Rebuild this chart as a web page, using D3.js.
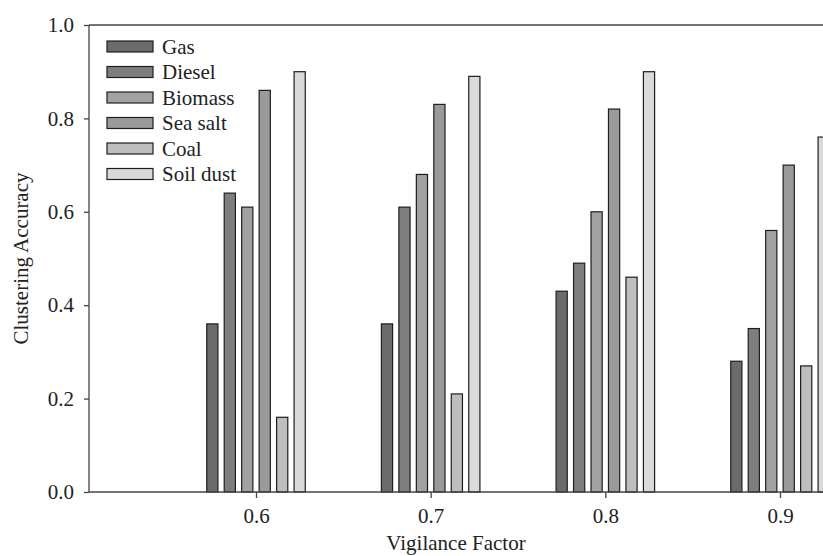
<!DOCTYPE html>
<html>
<head>
<meta charset="utf-8">
<script src="https://cdn.jsdelivr.net/npm/d3@7"></script>
<style>
  body { margin: 0; background: #fff; }
  svg { display: block; }
  text { font-family: "Liberation Serif", "Times New Roman", serif; fill: #222; }
</style>
</head>
<body>
<svg id="chart" width="823" height="556"></svg>
<script>
// --- Data ---
const factors = [0.6, 0.7, 0.8, 0.9];
const sources = ['Gas', 'Diesel', 'Biomass', 'Sea salt', 'Coal', 'Soil dust'];
const gas      = [0.36, 0.36, 0.43, 0.28];
const diesel   = [0.64, 0.61, 0.49, 0.35];
const biomass  = [0.61, 0.68, 0.60, 0.56];
const seaSalt  = [0.86, 0.83, 0.82, 0.70];
const coal     = [0.16, 0.21, 0.46, 0.27];
const soilDust = [0.90, 0.89, 0.90, 0.76];
const yTicks = [0, 0.2, 0.4, 0.6, 0.8, 1.0];

const series = [gas, diesel, biomass, seaSalt, coal, soilDust];
const fills = ['#6b6b6b', '#7e7e7e', '#a2a2a2', '#9a9a9a', '#bebebe', '#dadada'];

// --- Layout ---
const svg = d3.select('#chart');
const plotLeft = 89, plotRight = 823, plotTop = 25, plotBottom = 492;
const x = d3.scaleLinear().domain([0.6, 0.9]).range([256, 780]);
const y = d3.scaleLinear().domain([0, 1]).range([plotBottom, plotTop]);
const step = 0.01, barW = 0.0064;
const fontSize = '21px';

// bars
series.forEach((vals, i) => {
  svg.append('g').selectAll('rect')
    .data(vals.map((v, j) => ({ f: factors[j], v })))
    .join('rect')
    .attr('x', d => x(d.f + (i - 2.5) * step - barW / 2))
    .attr('width', d => x(d.f + barW) - x(d.f))
    .attr('y', d => y(d.v))
    .attr('height', d => y(0) - y(d.v))
    .attr('fill', fills[i])
    .attr('stroke', '#1e1e1e')
    .attr('stroke-width', 1.2);
});

// frame top line
svg.append('line').attr('x1', plotLeft).attr('x2', plotRight).attr('y1', plotTop).attr('y2', plotTop)
  .attr('stroke', '#444').attr('stroke-width', 1.3);

// axes
const yAxis = svg.append('g')
  .attr('transform', `translate(${plotLeft},0)`)
  .call(d3.axisLeft(y).tickValues(yTicks).tickFormat(d3.format('.1f')).tickSize(5).tickPadding(10));
const xAxis = svg.append('g')
  .attr('transform', `translate(0,${plotBottom})`)
  .call(d3.axisBottom(x).tickValues(factors).tickFormat(d3.format('.1f')).tickSize(6).tickPadding(10));

[yAxis, xAxis].forEach(a => {
  a.select('.domain').attr('stroke', '#444').attr('stroke-width', 1.3);
  a.selectAll('.tick line').attr('stroke', '#444').attr('stroke-width', 1.3);
  a.selectAll('.tick text').style('font-family', '"Liberation Serif", serif')
    .style('font-size', fontSize).attr('fill', '#222');
});
xAxis.select('.domain').attr('d', `M${plotLeft},0H${plotRight}`);
yAxis.select('.domain').attr('d', `M0,${plotTop}V${plotBottom}`);

// axis titles
svg.append('text')
  .attr('x', (plotLeft + plotRight) / 2).attr('y', 550)
  .attr('text-anchor', 'middle').style('font-size', fontSize)
  .text('Vigilance Factor');
svg.append('text')
  .attr('transform', `translate(28,${(plotTop + plotBottom) / 2}) rotate(-90)`)
  .attr('text-anchor', 'middle').style('font-size', fontSize)
  .text('Clustering Accuracy');

// legend
const legend = svg.append('g').attr('transform', 'translate(107,46.5)');
sources.forEach((s, i) => {
  const row = legend.append('g').attr('transform', `translate(0,${i * 25.5})`);
  row.append('rect').attr('x', 0).attr('y', -5.5).attr('width', 46).attr('height', 11)
    .attr('fill', fills[i]).attr('stroke', '#1e1e1e').attr('stroke-width', 1.2);
  row.append('text').attr('x', 55).attr('y', 7).style('font-size', fontSize).text(s);
});
</script>
</body>
</html>
